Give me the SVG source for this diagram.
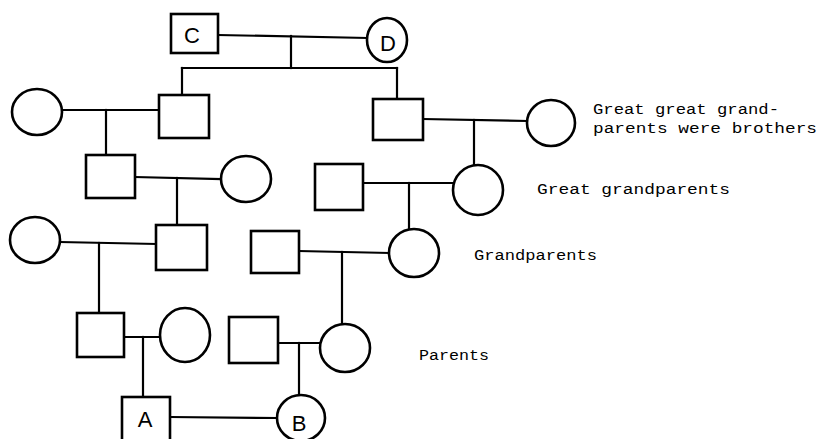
<svg xmlns="http://www.w3.org/2000/svg" width="819" height="439" viewBox="0 0 819 439">
  <style>
    .m { fill: #fff; stroke: #000; stroke-width: 2.6; }
    .f { fill: #fff; stroke: #000; stroke-width: 2.6; }
    .ln { fill: none; stroke: #000; stroke-width: 2.2; stroke-linecap: square; }
    .id { font-family: "Liberation Sans", Arial, sans-serif; font-size: 22px; fill: #000; text-anchor: middle; }
    .lab { font-family: "Liberation Mono", "Courier New", monospace; font-size: 14px; fill: #000; }
  </style>
  <rect width="819" height="439" fill="#fff"/>

  <!-- connectors: marriage lines and descent lines -->
  <g id="connectors" class="ln">
    <path d="M218 35 L367 38"/>
    <path d="M291 36 V68"/>
    <path d="M182 68 H397"/>
    <path d="M182 68 V95"/>
    <path d="M397 68 V99"/>
    <path d="M62 110 H159"/>
    <path d="M106 110 V155"/>
    <path d="M423 119 L527 121"/>
    <path d="M474 120 V165"/>
    <path d="M135 177 L221 179"/>
    <path d="M177 178 V225"/>
    <path d="M363 183 H453"/>
    <path d="M409 183 V229"/>
    <path d="M60 242 L156 244"/>
    <path d="M99 243 V313"/>
    <path d="M299 251 L389 253"/>
    <path d="M342 252 V324"/>
    <path d="M124 337 H160"/>
    <path d="M143 337 V397"/>
    <path d="M278 343 H320"/>
    <path d="M299 343 V395"/>
    <path d="M170 417 L277 418"/>
  </g>

  <!-- generation 1 -->
  <g id="C"><rect class="m" x="171" y="14" width="47" height="39"/><text class="id" x="192" y="43">C</text></g>
  <g id="D"><ellipse class="f" cx="387" cy="40" rx="20" ry="22"/><text class="id" x="388" y="51">D</text></g>

  <!-- generation 2 -->
  <g id="sonL"><rect class="m" x="159" y="95" width="50" height="43"/></g>
  <g id="wifeL"><ellipse class="f" cx="37" cy="112" rx="25" ry="23"/></g>
  <g id="sonR"><rect class="m" x="373" y="99" width="50" height="41"/></g>
  <g id="wifeR"><ellipse class="f" cx="551" cy="123" rx="24" ry="23"/></g>

  <!-- generation 3 -->
  <g id="g3L"><rect class="m" x="86" y="155" width="49" height="43"/></g>
  <g id="g3Lw"><ellipse class="f" cx="246" cy="179" rx="25" ry="23"/></g>
  <g id="g3Rh"><rect class="m" x="315" y="164" width="48" height="46"/></g>
  <g id="g3R"><ellipse class="f" cx="478" cy="190" rx="25" ry="25"/></g>

  <!-- generation 4 -->
  <g id="g4Lw"><ellipse class="f" cx="35" cy="240" rx="25" ry="23"/></g>
  <g id="g4L"><rect class="m" x="156" y="225" width="51" height="45"/></g>
  <g id="g4Rh"><rect class="m" x="251" y="231" width="48" height="42"/></g>
  <g id="g4R"><ellipse class="f" cx="414" cy="253" rx="25" ry="24"/></g>

  <!-- generation 5 -->
  <g id="g5L"><rect class="m" x="77" y="313" width="47" height="44"/></g>
  <g id="g5Lw"><ellipse class="f" cx="185" cy="335" rx="25" ry="27"/></g>
  <g id="g5Rh"><rect class="m" x="229" y="317" width="49" height="46"/></g>
  <g id="g5R"><ellipse class="f" cx="345" cy="348" rx="25" ry="24"/></g>

  <!-- generation 6 -->
  <g id="A"><rect class="m" x="122" y="397" width="48" height="44"/><text class="id" x="145" y="427">A</text></g>
  <g id="B"><ellipse class="f" cx="301" cy="418" rx="24" ry="23"/><text class="id" x="299" y="431">B</text></g>

  <!-- generation labels -->
  <g id="labels">
    <text class="lab" x="593" y="114" textLength="186" lengthAdjust="spacingAndGlyphs">Great great grand-</text>
    <text class="lab" x="593" y="133" textLength="224" lengthAdjust="spacingAndGlyphs">parents were brothers</text>
    <text class="lab" x="537" y="194" textLength="193" lengthAdjust="spacingAndGlyphs">Great grandparents</text>
    <text class="lab" x="474" y="260" textLength="123" lengthAdjust="spacingAndGlyphs">Grandparents</text>
    <text class="lab" x="419" y="360" textLength="70" lengthAdjust="spacingAndGlyphs">Parents</text>
  </g>
</svg>
